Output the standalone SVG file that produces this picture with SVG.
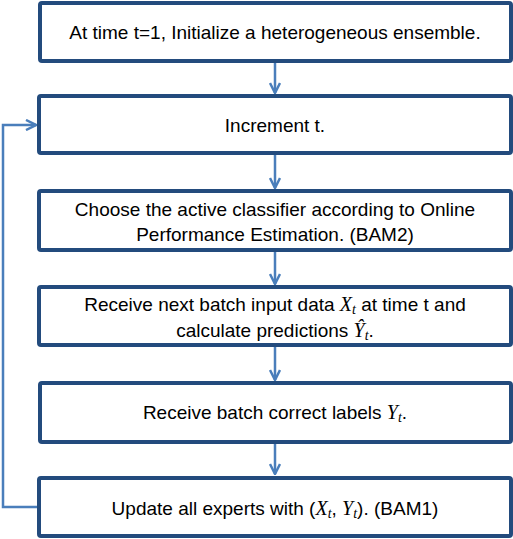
<svg xmlns="http://www.w3.org/2000/svg" width="513" height="539" viewBox="0 0 513 539">
<style>
.box{fill:#fff;stroke:#234B7D;stroke-width:4}
.t{font-family:"Liberation Sans",Arial,sans-serif;font-size:19px;fill:#000;text-anchor:middle}
.m{font-family:"Liberation Serif","Times New Roman",serif;font-style:italic;font-size:20px}
.s{font-size:14px}
.c{fill:none;stroke:#4A7EBB;stroke-width:2.5}
</style>
<defs>
<marker id="a" viewBox="0 0 12 12" refX="11" refY="6" markerWidth="12" markerHeight="12" markerUnits="userSpaceOnUse" orient="auto">
<path d="M1,1 L11,6 L1,11" fill="none" stroke="#4A7EBB" stroke-width="2.5"/>
</marker>
</defs>
<g id="connectors">
<line class="c" x1="275" y1="62" x2="275" y2="93" marker-end="url(#a)"/>
<line class="c" x1="275" y1="155" x2="275" y2="188" marker-end="url(#a)"/>
<line class="c" x1="275" y1="251" x2="275" y2="284" marker-end="url(#a)"/>
<line class="c" x1="275" y1="346" x2="275" y2="380" marker-end="url(#a)"/>
<line class="c" x1="275" y1="443" x2="275" y2="474" marker-end="url(#a)"/>
<polyline class="c" points="38,507 3,507 3,125 36,125" marker-end="url(#a)"/>
</g>
<g id="n1"><rect class="box" x="40" y="3" width="471" height="58" rx="2"/>
<text class="t" x="275" y="39">At time t=1, Initialize a heterogeneous ensemble.</text></g>
<g id="n2"><rect class="box" x="39" y="96" width="472" height="57" rx="2"/>
<text class="t" x="275" y="132">Increment t.</text></g>
<g id="n3"><rect class="box" x="39" y="191" width="472" height="59" rx="2"/>
<text class="t" x="275" y="216">Choose the active classifier according to Online</text>
<text class="t" x="275" y="241">Performance Estimation. (BAM2)</text></g>
<g id="n4"><rect class="box" x="39" y="287" width="472" height="58" rx="2"/>
<text class="t" x="275" y="311">Receive next batch input data <tspan class="m">X</tspan><tspan class="m s" dy="3">t</tspan><tspan dy="-3"> at time t and</tspan></text>
<text class="t" x="275" y="337">calculate predictions <tspan class="m">Ŷ</tspan><tspan class="m s" dy="3">t</tspan><tspan dy="-3">.</tspan></text></g>
<g id="n5"><rect class="box" x="40" y="383" width="471" height="59" rx="2"/>
<text class="t" x="275" y="419">Receive batch correct labels <tspan class="m">Y</tspan><tspan class="m s" dy="3">t</tspan><tspan dy="-3">.</tspan></text></g>
<g id="n6"><rect class="box" x="39" y="478" width="472" height="58" rx="2"/>
<text class="t" x="275" y="515">Update all experts with (<tspan class="m">X</tspan><tspan class="m s" dy="3">t</tspan><tspan dy="-3">, </tspan><tspan class="m">Y</tspan><tspan class="m s" dy="3">t</tspan><tspan dy="-3">). (BAM1)</tspan></text></g>
</svg>
